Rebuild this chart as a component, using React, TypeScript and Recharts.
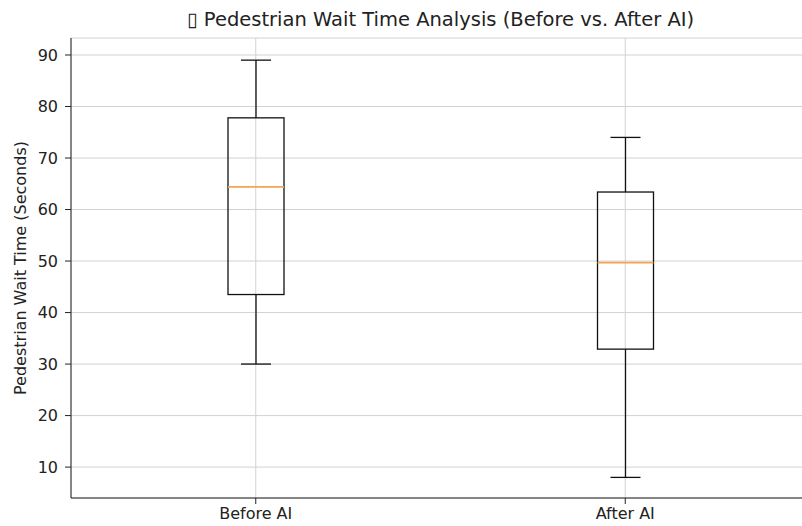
import React from 'react';
import { Bar, CartesianGrid, ComposedChart, XAxis, YAxis } from 'recharts';

const categories = ['Before AI', 'After AI'];
const whiskerLow = [30, 8];
const lowerQuartile = [43.5, 32.9];
const medians = [64.4, 49.7];
const upperQuartile = [77.8, 63.4];
const whiskerHigh = [89, 74];
const yTicks = [10, 20, 30, 40, 50, 60, 70, 80, 90];

const data = categories.map((name, i) => ({
  name,
  low: whiskerLow[i],
  q1: lowerQuartile[i],
  median: medians[i],
  q3: upperQuartile[i],
  high: whiskerHigh[i],
  range: [whiskerLow[i], whiskerHigh[i]],
}));

const font = 'DejaVu Sans, sans-serif';

// draws one box: whiskers, box and the median, inside the bar's pixel range
function BoxShape(props: any) {
  const { x, y, width, height, payload } = props;
  const top = Math.min(y, y + height);
  const h = Math.abs(height);
  const toPx = (v: number) =>
    top + (h * (payload.high - v)) / (payload.high - payload.low);
  const cx = x + width / 2;
  const cap = 15;
  return (
    <g>
      <line x1={cx} x2={cx} y1={toPx(payload.high)} y2={toPx(payload.q3)} stroke="#111" strokeWidth={1.3} />
      <line x1={cx} x2={cx} y1={toPx(payload.q1)} y2={toPx(payload.low)} stroke="#111" strokeWidth={1.3} />
      <line x1={cx - cap} x2={cx + cap} y1={toPx(payload.high)} y2={toPx(payload.high)} stroke="#111" strokeWidth={1.3} />
      <line x1={cx - cap} x2={cx + cap} y1={toPx(payload.low)} y2={toPx(payload.low)} stroke="#111" strokeWidth={1.3} />
      <rect
        x={x}
        y={toPx(payload.q3)}
        width={width}
        height={toPx(payload.q1) - toPx(payload.q3)}
        fill="none"
        stroke="#111"
        strokeWidth={1.3}
      />
      <line x1={x} x2={x + width} y1={toPx(payload.median)} y2={toPx(payload.median)} stroke="#f3a451" strokeWidth={1.6} />
    </g>
  );
}

export default function App() {
  return (
    <div
      style={{
        position: 'absolute',
        left: 0,
        top: 0,
        width: 802,
        height: 526,
        overflow: 'hidden',
        background: '#fff',
        fontFamily: font,
      }}
    >
      <div
        style={{
          position: 'absolute',
          top: 8,
          left: 0,
          width: 881,
          textAlign: 'center',
          fontSize: 19.5,
          lineHeight: '23px',
          color: '#222',
        }}
      >
        ▯ Pedestrian Wait Time Analysis (Before vs. After AI)
      </div>
      <ComposedChart
        width={812}
        height={526}
        data={data}
        margin={{ top: 38, right: 2, bottom: 0, left: 0 }}
      >
        <CartesianGrid stroke="#d2d2d2" strokeWidth={1} />
        <XAxis
          dataKey="name"
          height={28}
          stroke="#222"
          tickSize={6}
          tickMargin={4}
          tick={{ fill: '#222', fontSize: 16, fontFamily: font }}
        />
        <XAxis
          xAxisId="top"
          dataKey="name"
          orientation="top"
          height={0}
          stroke="#222"
          tick={false}
          tickLine={false}
        />
        <YAxis
          type="number"
          domain={[4, 93.3]}
          ticks={yTicks}
          width={71}
          stroke="#222"
          tickSize={6}
          tickMargin={7}
          tick={{ fill: '#222', fontSize: 16, fontFamily: font }}
          label={{
            value: 'Pedestrian Wait Time (Seconds)',
            angle: -90,
            position: 'insideLeft',
            offset: 20,
            style: { textAnchor: 'middle', fill: '#222', fontSize: 16, fontFamily: font },
          }}
        />
        <Bar
          dataKey="range"
          barSize={56}
          shape={<BoxShape />}
          isAnimationActive={false}
        />
      </ComposedChart>
    </div>
  );
}
